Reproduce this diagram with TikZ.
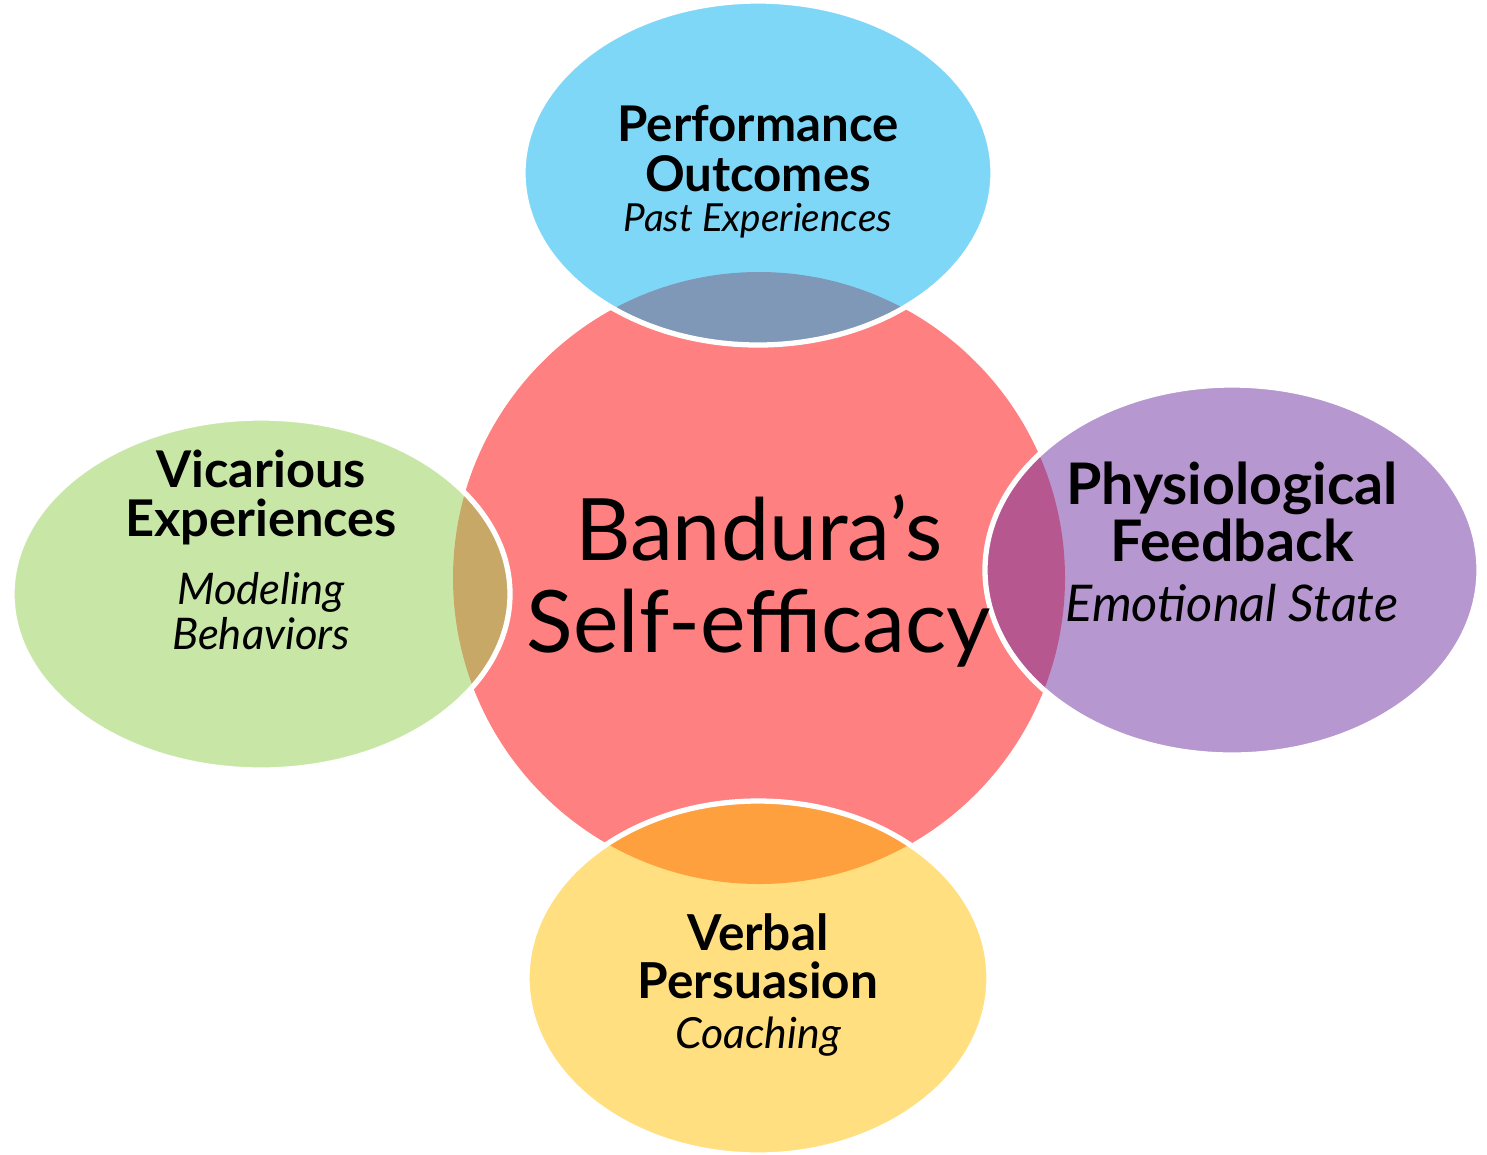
\documentclass[tikz,border=0pt]{standalone}
\usepackage{fontspec}
\setmainfont{Lato}
\usepackage{xcolor}
\usetikzlibrary{shapes.geometric}

\definecolor{hubred}{RGB}{255,128,128}
\definecolor{petalblue}{RGB}{0,176,240}
\definecolor{petalgreen}{RGB}{146,208,80}
\definecolor{petalpurple}{RGB}{112,48,160}
\definecolor{petalyellow}{RGB}{255,192,0}

\tikzstyle{hub} = [circle, fill=hubred, minimum size=6.12cm, inner sep=0pt]
\tikzstyle{petal} = [ellipse, draw=white, line width=1.5pt, fill opacity=0.5, inner sep=0pt]
\tikzstyle{label} = [align=center, inner sep=0pt, text=black]

\newcommand{\head}[1]{{\bfseries #1}}
\newcommand{\sub}[1]{{\itshape #1}}

\begin{document}
\begin{tikzpicture}
        \useasboundingbox (0,0) rectangle (14.87,-11.54);

        % Centre
        \node[hub] (hub) at (7.59,-5.78) {};

        % Sources
        \node[petal, fill=petalblue, minimum width=4.70cm, minimum height=3.44cm] (perf) at (7.58,-1.73) {};
        \node[petal, fill=petalgreen, minimum width=4.98cm, minimum height=3.52cm] (vic) at (2.61,-5.94) {};
        \node[petal, fill=petalpurple, minimum width=4.94cm, minimum height=3.70cm] (phys) at (12.32,-5.70) {};
        \node[petal, fill=petalyellow, minimum width=4.62cm, minimum height=3.54cm] (verb) at (7.58,-9.78) {};

        % Text Labels
        \node[label, font=\fontsize{24.5}{26.2}\selectfont, yshift=-0.03cm] (hubtext) at (hub.center) {Bandura’s\\Self-efficacy};
        \node[label, font=\fontsize{14}{14.2}\selectfont, yshift=0.01cm] (perftext) at (perf.center)
            {\head{Performance}\\\head{Outcomes}\\[-0.1cm]\sub{\fontsize{11}{12}\selectfont Past Experiences}};
        \node[label, font=\fontsize{14.4}{13.7}\selectfont, yshift=0.44cm] (victext) at (vic.center)
            {\head{Vicarious}\\\head{Experiences}\\[5.7pt]\sub{\fontsize{12.4}{13}\selectfont Modeling}\\[-0.9pt]\sub{\fontsize{12.4}{13}\selectfont Behaviors}};
        \node[label, font=\fontsize{16.3}{16.2}\selectfont, yshift=0.28cm] (phystext) at (phys.center)
            {\head{Physiological}\\\head{Feedback}\\[0.9pt]\sub{\fontsize{14.4}{14}\selectfont Emotional State}};
        \node[label, font=\fontsize{14.1}{13.7}\selectfont, yshift=-0.07cm] (verbtext) at (verb.center)
            {\head{Verbal}\\\head{Persuasion}\\[0.5pt]\sub{\fontsize{12.2}{12}\selectfont Coaching}};

    \end{tikzpicture}
\end{document}
